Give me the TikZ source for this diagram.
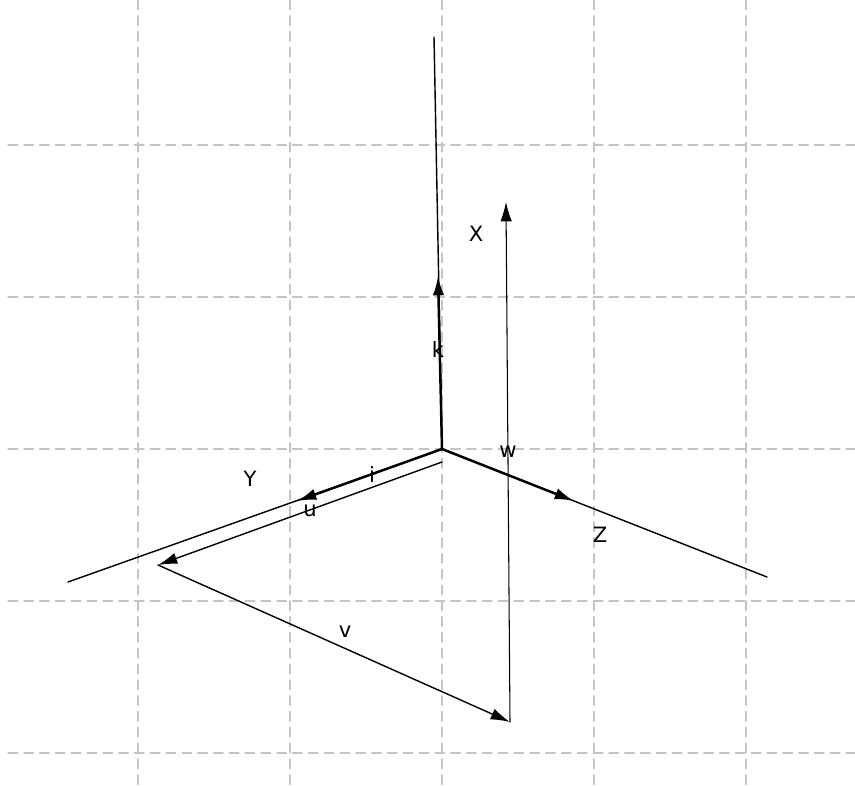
\documentclass[tikz,border=0pt]{standalone}
\usepackage{fontspec}
\setmainfont{DejaVu Sans}
\usetikzlibrary{arrows.meta}
\definecolor{gridgray}{HTML}{C4C4C4}

\begin{document}
\begin{tikzpicture}[x=0.02cm,y=-0.02cm,line cap=round,line join=round,
  axis/.style={black,line width=0.8pt},
  vec/.style={black,line width=0.8pt,-{Latex[length=11pt,width=6.5pt]}},
  unitvec/.style={black,line width=1.4pt,-{Latex[length=11pt,width=6.5pt]}},
  lbl/.style={font=\fontsize{12}{12}\selectfont,inner sep=0pt}]
  \useasboundingbox (0,0) rectangle (855,785);
  % grid
  \foreach \g in {138,290,442,594,746}{
    \draw[gridgray,line width=0.6pt,dash pattern=on 5.5pt off 3.5pt] (\g,0) -- (\g,785);}
  \foreach \g in {145,297,449,601,753}{
    \draw[gridgray,line width=0.6pt,dash pattern=on 5.5pt off 3.5pt] (8,\g) -- (855,\g);}
  % points
  \coordinate (O) at (442,449);
  \coordinate (Xend) at (434,37);
  \coordinate (Yend) at (68,582);
  \coordinate (Zend) at (767,577);
  \coordinate (ktip) at (438,276);
  \coordinate (itip) at (297,501);
  \coordinate (ztip) at (574,501);
  \coordinate (ustart) at (442,462);
  \coordinate (utip) at (158,565);
  \coordinate (vtip) at (510,722);
  \coordinate (wtip) at (506,202);
  % axes
  \draw[axis] (O) -- (Xend);
  \draw[axis] (O) -- (Yend);
  \draw[axis] (O) -- (Zend);
  % unit vectors
  \draw[unitvec] (O) -- (ktip);
  \draw[unitvec] (O) -- (itip);
  \draw[unitvec] (O) -- (ztip);
  % u, v, w
  \draw[vec] (ustart) -- (utip);
  \draw[vec] (utip) -- (vtip);
  \draw[vec,line width=0.6pt] (vtip) -- (wtip);
  % labels
  \node[lbl] (lX) at (476,234) {X};
  \node[lbl] (lY) at (250,479) {Y};
  \node[lbl] (lZ) at (600,535) {Z};
  \node[lbl] (lk) at (438,349) {k};
  \node[lbl] (li) at (372,474) {i};
  \node[lbl] (lu) at (310,511) {u};
  \node[lbl] (lv) at (345,632) {v};
  \node[lbl] (lw) at (508,452) {w};
\end{tikzpicture}
\end{document}
